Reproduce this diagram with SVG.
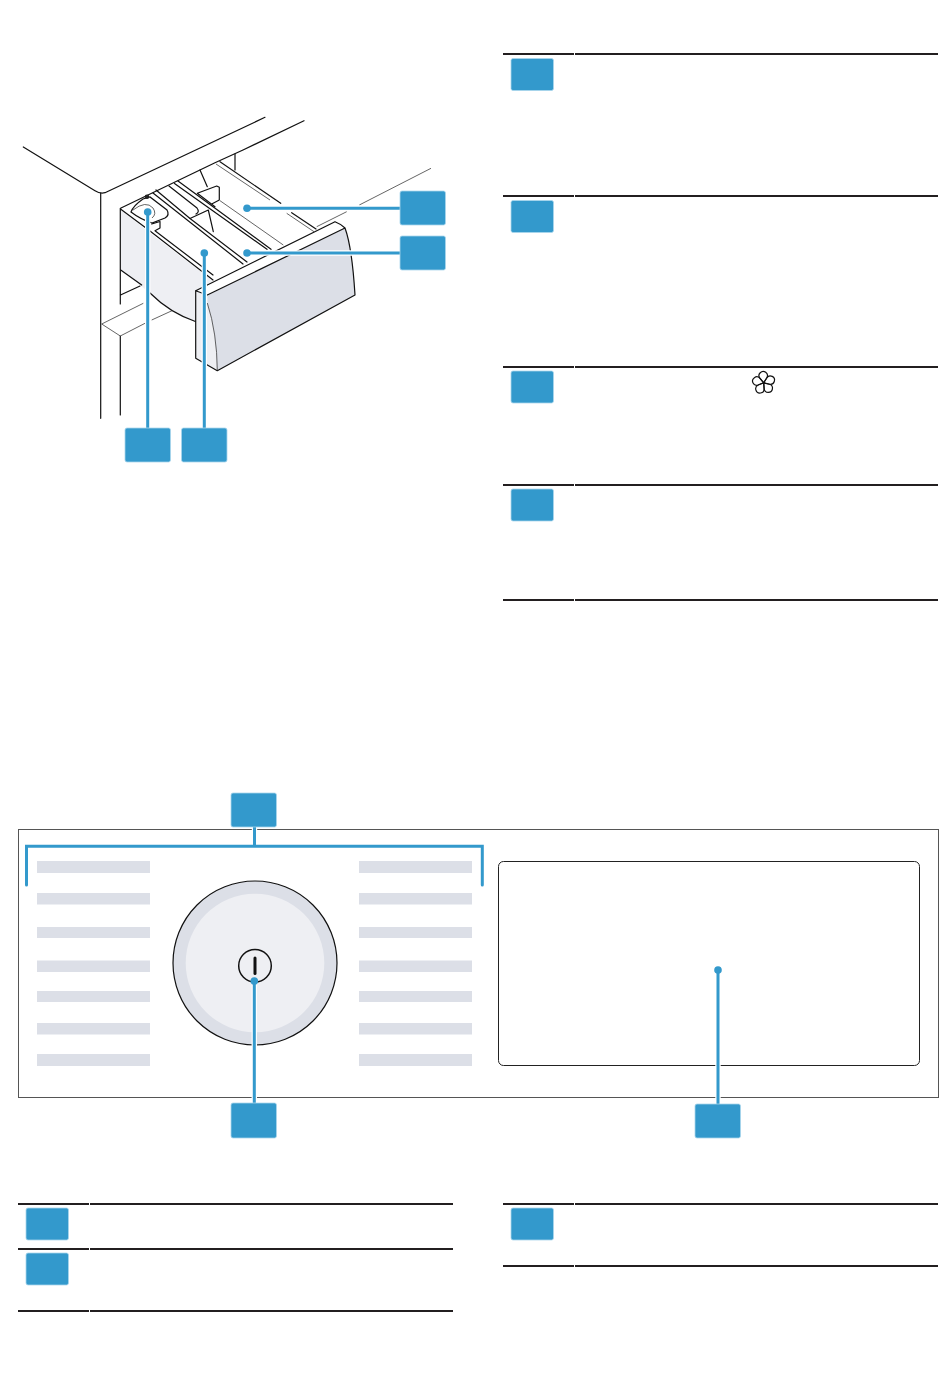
<svg xmlns="http://www.w3.org/2000/svg" width="950" height="1392" viewBox="0 0 950 1392">
<style>
.tag{fill:#3399cc;stroke:#a9d5ec;stroke-width:.8}
.rule{stroke:#231f20;stroke-width:2;fill:none}
.gap{stroke:#fff;stroke-width:1}
.bar{fill:#dcdfe7}
.halo{stroke:#fff;stroke-width:5.4;fill:none}
.lead{stroke:#3399cc;stroke-width:3;fill:none}
.dot{fill:#3399cc}
.k{fill:none;stroke:#111;stroke-width:1.2;stroke-linejoin:round;stroke-linecap:round}
.t{fill:none;stroke:#222;stroke-width:.7}
</style>
<rect width="950" height="1392" fill="#fff"/>
<g id="illustration">
<path d="M121,210 L150,233 L213,281 L197,290 L196,321.7 Q170,313 150,293 L121,270Z" fill="#eeeff3"/>
<path class="k" d="M23.3,147 L95,190.7 Q100,194 105,192.7 L265,117.3"/>
<path class="k" d="M304,120.7 L243,150 L215,162.7 L121,208"/>
<path class="k" d="M100.7,193 V418.3 M120.3,208.3 V304 M120.3,336 V415"/>
<path class="k" d="M235,154 V170 M220,161.7 L280.7,203.3 M291.7,212.7 L316,229"/>
<path class="t" d="M216,164 L270,200 M286.7,213.3 L314,231.7 M220,200.7 L283.3,245 M431,168.3 L359.3,205 M346.7,211.7 L316.7,226.7"/>
<path class="k" d="M178,181 L271,249.3 M174.5,183.5 L267,249.3"/>
<path class="k" d="M156,190 L190,218.5 L247,262 M153,193 L243,264"/>
<path class="k" d="M200,170 L207.3,186.7 M197.3,193.3 L216.7,186 L219.3,187.3 V200 L211.7,204 M197.3,193.3 L215,206.7"/>
<path class="k" d="M169,186 L197,208 Q200,212 196,214 M190,218.5 L208.3,210 L213.3,231.7"/>
<path d="M131,212 Q133,206 143,199 L150,197 L167,210 Q170,215 165,218 L152,223 Q140,219 131,212Z" fill="#fff" stroke="#111" stroke-width="1.2"/>
<circle cx="147" cy="196.7" r="2.3" fill="#222"/>
<path class="t" d="M133,210 Q146,200 153,208 Q157,214 152,218"/>
<path class="k" d="M120.5,209 L150,231 L213,280 M151.7,224 L160,221.5 V228 L155,230.7 L213,275"/>
<path class="k" d="M120.7,270 L141.7,285 M120.5,295 L140,286"/>
<path class="k" d="M150,293 Q170,313 196,321.7"/>
<path class="t" d="M101.7,324 L143.3,303.3 M101.7,324 L120.3,336 L145,323.3 M151.7,320 L172,310.7"/>
<path d="M195.7,291 L207.3,295 V303 Q217,333 217.3,370.7 L195.7,358.3Z" fill="#eeeff3"/>
<path d="M207.3,295 L345,228 Q352,247 355,295 L217.3,370.7 Q217,333 207.3,303Z" fill="#dcdfe7"/>
<path d="M195.7,291 L335,221.7 Q341,224 345,228 L207.3,295Z" fill="#fff"/>
<path class="k" d="M195.7,290.7 L335,221.7 Q341,224 345,228 Q352,247 355,295 L217.3,370.7 L195.7,358.3 V290.7 L207.3,295 L345,228"/>
<path class="t" d="M207.3,303 Q217,333 217.3,370.7" stroke-width="1"/>
</g>
<g id="panel">
<rect x="18.5" y="829.5" width="920" height="268" fill="#fff" stroke="#555" stroke-width="1"/>
<g class="bar">
<rect x="37" y="861" width="113" height="12"/><rect x="37" y="893" width="113" height="11.5"/><rect x="37" y="927" width="113" height="11"/><rect x="37" y="960.5" width="113" height="11.5"/><rect x="37" y="991" width="113" height="11"/><rect x="37" y="1023" width="113" height="11.5"/><rect x="37" y="1054" width="113" height="12"/>
<rect x="359" y="861" width="113" height="12"/><rect x="359" y="893" width="113" height="11.5"/><rect x="359" y="927" width="113" height="11"/><rect x="359" y="960.5" width="113" height="11.5"/><rect x="359" y="991" width="113" height="11"/><rect x="359" y="1023" width="113" height="11.5"/><rect x="359" y="1054" width="113" height="12"/>
</g>
<circle cx="255" cy="963" r="82" fill="#dcdfe7" stroke="#111" stroke-width="1.2"/>
<circle cx="255" cy="963" r="69.3" fill="#eeeff3"/>
<circle cx="255" cy="965.7" r="16.3" fill="none" stroke="#111" stroke-width="1.5"/>
<path d="M255,958 V973.5" stroke="#111" stroke-width="3" stroke-linecap="round"/>
<rect x="498.5" y="861.5" width="421" height="204" rx="5" fill="#fff" stroke="#222" stroke-width="1"/>
</g>
<g id="flower" fill="none" stroke="#111" stroke-width="1.2">
<g transform="translate(763.7 382.8) rotate(-4)">
<path d="M0,0 L-3.53,-4.85 A4.2,4.2 0 1 1 3.53,-4.85 Z"/>
<path d="M0,0 L-3.53,-4.85 A4.2,4.2 0 1 1 3.53,-4.85 Z" transform="rotate(72)"/>
<path d="M0,0 L-3.53,-4.85 A4.2,4.2 0 1 1 3.53,-4.85 Z" transform="rotate(144)"/>
<path d="M0,0 L-3.53,-4.85 A4.2,4.2 0 1 1 3.53,-4.85 Z" transform="rotate(216)"/>
<path d="M0,0 L-3.53,-4.85 A4.2,4.2 0 1 1 3.53,-4.85 Z" transform="rotate(288)"/>
</g>
</g>
<g id="table-rules">
<path class="rule" d="M503,54 H938 M503,196 H938 M503,367 H938 M503,485 H938 M503,600 H938 M18,1204 H453 M18,1249 H453 M18,1311 H453 M503,1204 H938 M503,1266 H938"/>
<path class="gap" d="M574.5,53 V55 M574.5,195 V197 M574.5,366 V368 M574.5,484 V486 M574.5,599 V601 M89.5,1203 V1205 M89.5,1248 V1250 M89.5,1310 V1312 M574.5,1203 V1205 M574.5,1265 V1267"/>
</g>
<g id="connectors">
<path class="halo" d="M147.7,216 V428 M204.3,257 V428 M251,208.3 H400 M251,253 H400 M254.5,827 V844 M254.3,985 V1103 M718,974 V1104"/>
<path class="lead" stroke-linecap="round" d="M26.5,885 V846.3 H482.3 V885"/>
<path class="lead" d="M247,208.3 H400 M247,253 H400 M147.7,212 V428 M204.3,253 V428 M254.5,827 V846.3 M254.3,981 V1103 M718,970 V1104"/>
<circle class="dot" cx="247" cy="208.3" r="3.8"/><circle class="dot" cx="247" cy="253" r="3.8"/><circle class="dot" cx="147.7" cy="212" r="3.8"/><circle class="dot" cx="204.3" cy="253" r="3.8"/><circle class="dot" cx="254.3" cy="981" r="3.8"/><circle class="dot" cx="718" cy="970" r="3.8"/>
</g>
<g id="tag-a"><rect class="tag" x="400" y="191" width="45.5" height="34" rx="2"/></g>
<g id="tag-b"><rect class="tag" x="400" y="236" width="45.5" height="34" rx="2"/></g>
<g id="tag-c"><rect class="tag" x="125" y="428" width="45.5" height="34" rx="2"/></g>
<g id="tag-d"><rect class="tag" x="181.5" y="428" width="45.5" height="34" rx="2"/></g>
<g id="row-1"><rect class="tag" x="511" y="58.5" width="42.5" height="32" rx="2"/></g>
<g id="row-2"><rect class="tag" x="511" y="200.5" width="42.5" height="32" rx="2"/></g>
<g id="row-3"><rect class="tag" x="511" y="371" width="42.5" height="32" rx="2"/></g>
<g id="row-4"><rect class="tag" x="511" y="489" width="42.5" height="32" rx="2"/></g>
<g id="tag-e"><rect class="tag" x="231" y="793" width="45.5" height="34" rx="2"/></g>
<g id="tag-f"><rect class="tag" x="231" y="1103" width="45.5" height="35" rx="2"/></g>
<g id="tag-g"><rect class="tag" x="695" y="1104" width="45.5" height="34" rx="2"/></g>
<g id="row-5"><rect class="tag" x="26" y="1208" width="42.5" height="32" rx="2"/></g>
<g id="row-6"><rect class="tag" x="26" y="1253" width="42.5" height="32" rx="2"/></g>
<g id="row-7"><rect class="tag" x="511" y="1208" width="42.5" height="32" rx="2"/></g>
</svg>
